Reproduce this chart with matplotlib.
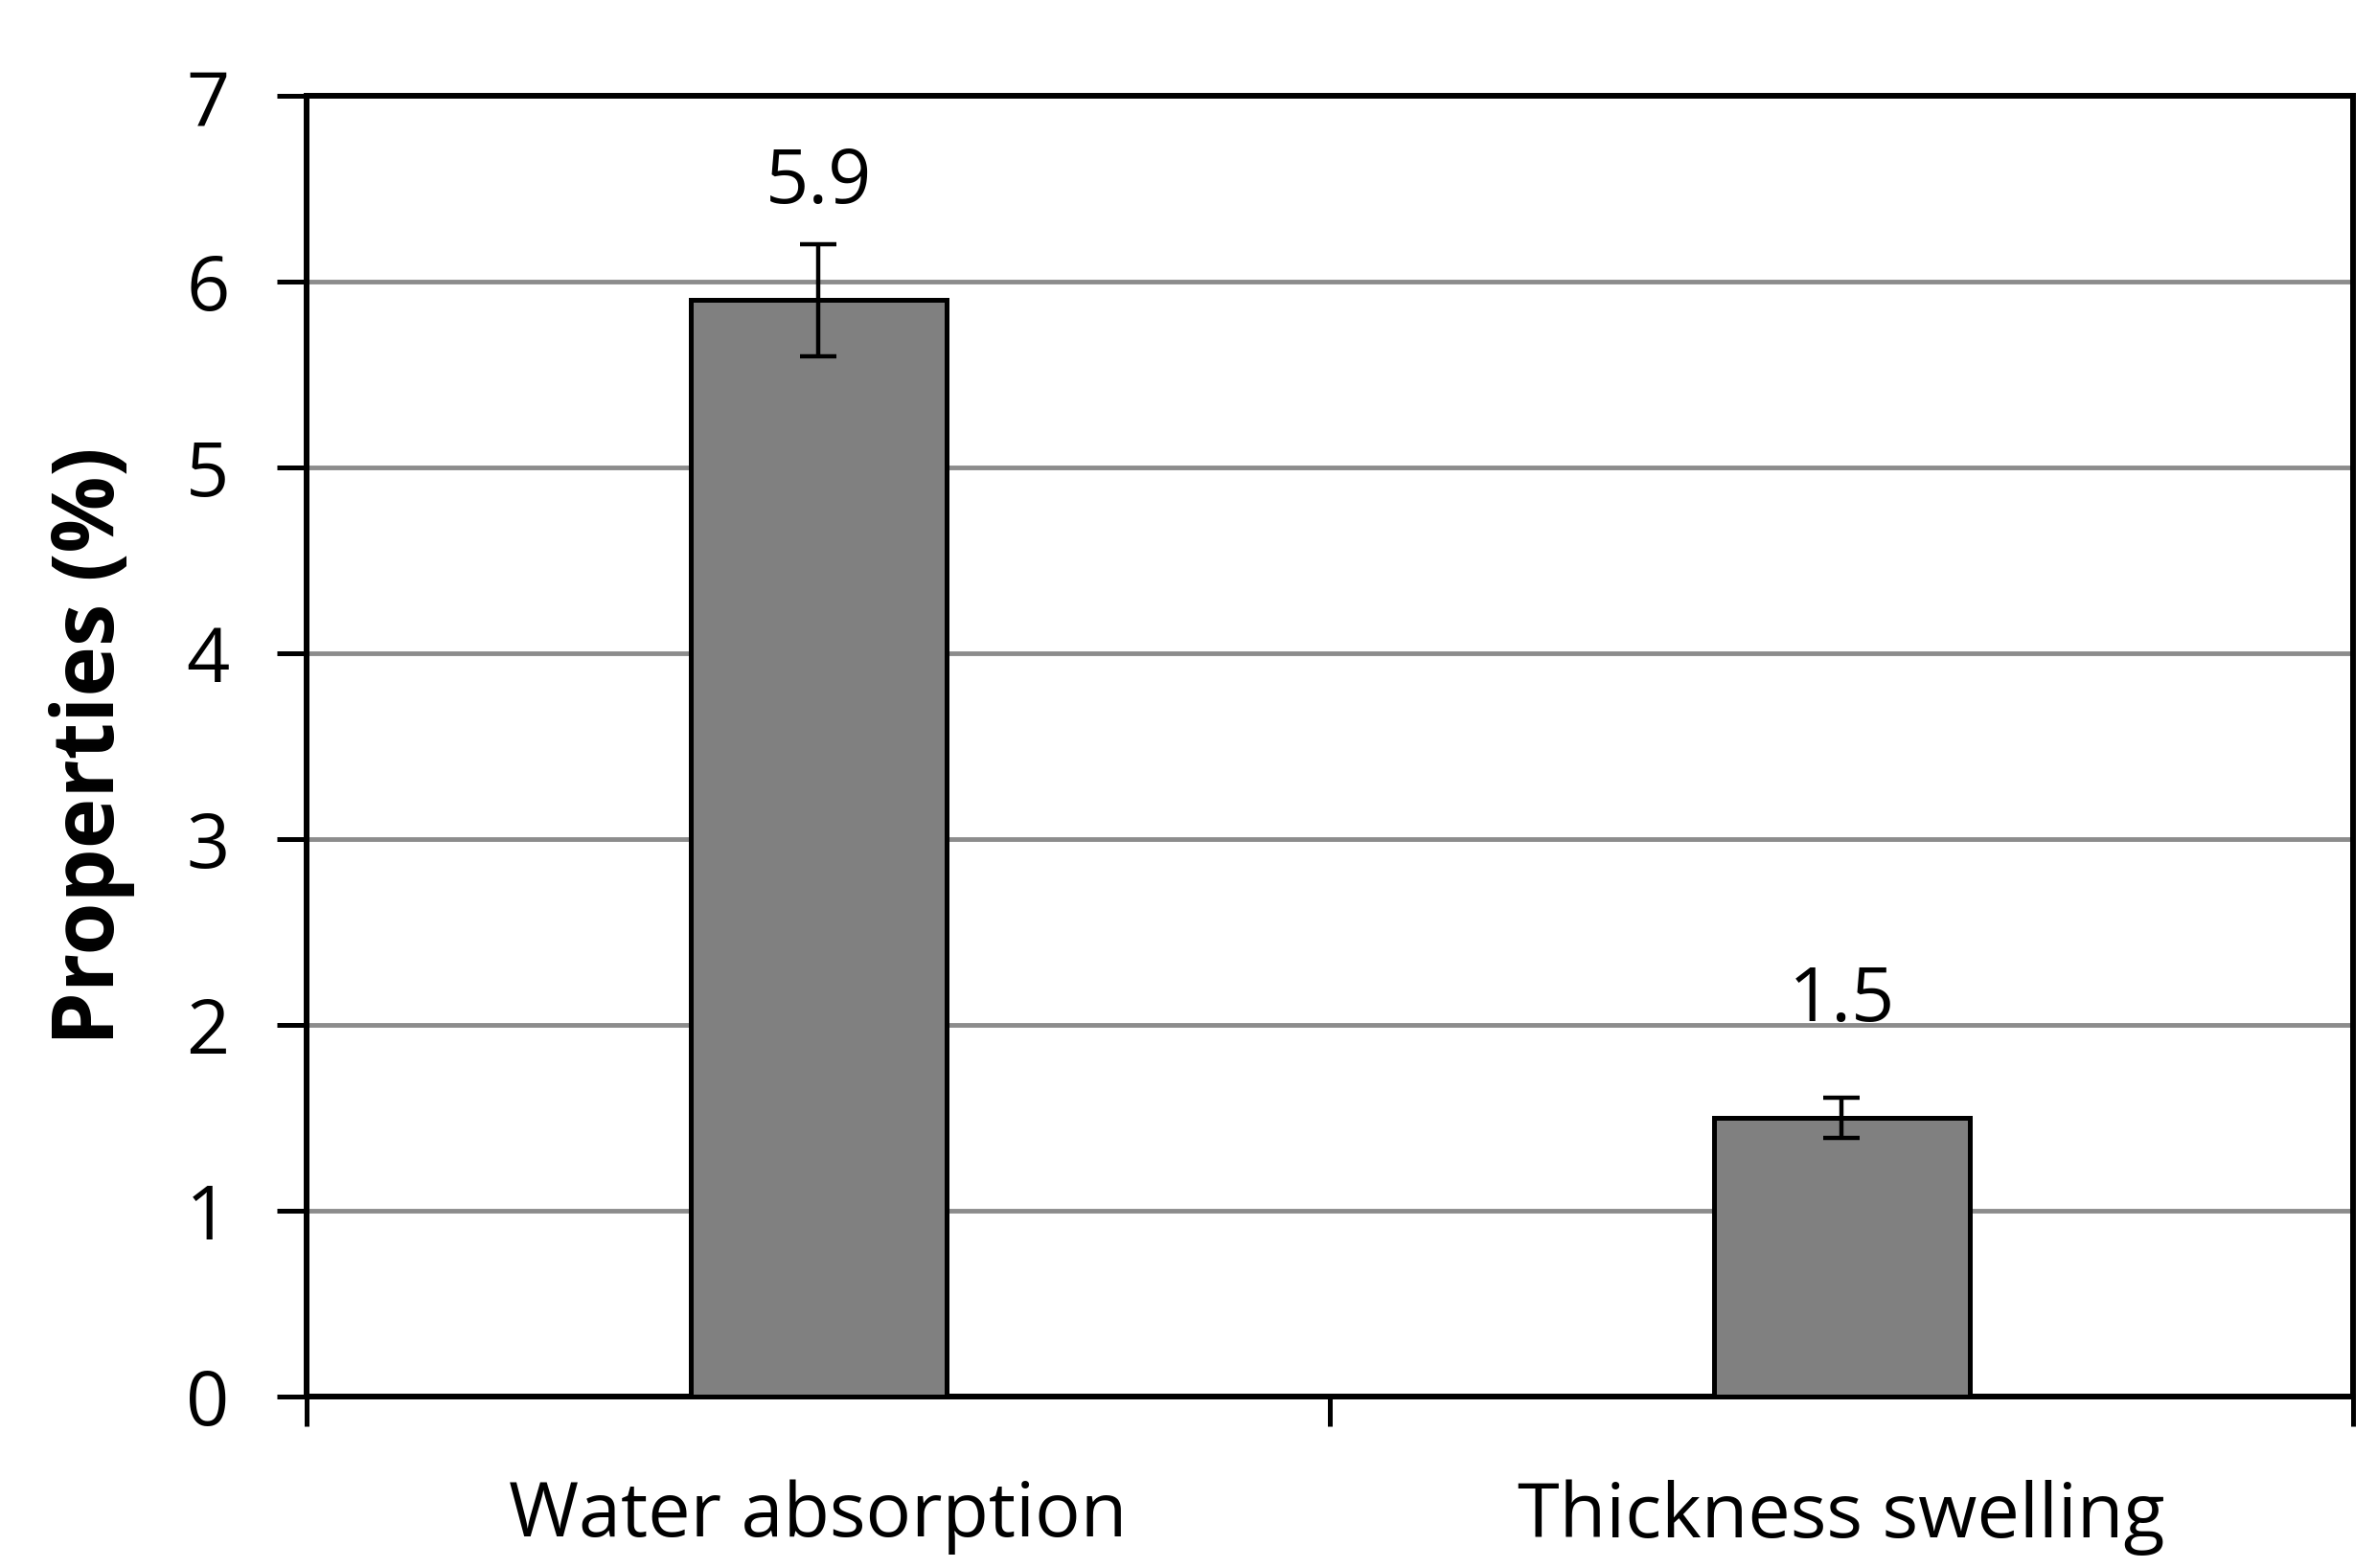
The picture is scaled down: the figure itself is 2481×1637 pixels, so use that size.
import matplotlib
matplotlib.use("Agg")
import matplotlib.pyplot as plt
import numpy as np

categories = ["Water absorption", "Thickness swelling"]
values = [5.9, 1.5]
errors = [0.3, 0.11]
value_labels = ["5.9", "1.5"]
yticks = [0, 1, 2, 3, 4, 5, 6, 7]

plt.rcParams['font.family'] = ['Open Sans', 'DejaVu Sans']

fig = plt.figure(figsize=(24.81, 16.37), dpi=100)
ax = fig.add_axes([0.129, 0.1093, 0.861, 0.8296])

x = np.arange(len(categories))
ax.bar(x, values, width=0.25, color="#808080", edgecolor="black", linewidth=3.6, zorder=3)
ax.errorbar(x, values, yerr=errors, fmt="none", ecolor="black", elinewidth=3.2,
            capsize=14, capthick=3.2, zorder=4)
for xi, v, lab in zip(x, values, value_labels):
    ax.annotate(lab, (xi, v), xytext=(0, 59), textcoords="offset points",
                ha="center", va="bottom", fontsize=57)

ax.set_xlim(-0.5, len(categories) - 0.5)
ax.set_ylim(0, 7)
ax.set_yticks(yticks)
ax.set_yticklabels([str(t) for t in yticks], fontsize=57)
ax.set_xticks(x)
ax.set_xticklabels(categories, fontsize=57)
ax.tick_params(axis="x", length=0, pad=62)
ax.set_xticks([-0.5, 0.5, 1.5], minor=True)
ax.tick_params(axis="x", which="minor", length=22, width=3.6, direction="out")
ax.tick_params(axis="y", length=22, width=3.6, direction="out", pad=36)

ax.yaxis.grid(True, color="#8c8c8c", linewidth=3.5, zorder=0)
ax.set_axisbelow(True)
for s in ax.spines.values():
    s.set_linewidth(4.3)
    s.set_color("black")

ax.set_ylabel("Properties (%)", fontsize=64, fontweight="bold", labelpad=38)

fig.savefig("out.png", dpi=100)
